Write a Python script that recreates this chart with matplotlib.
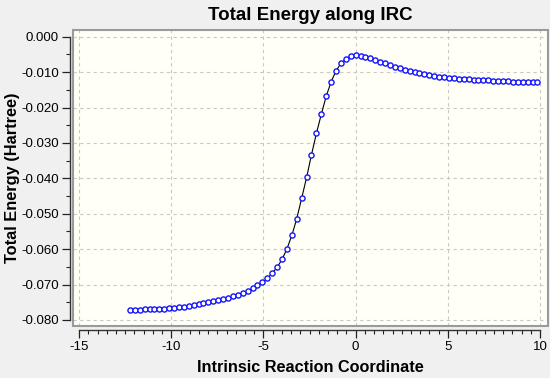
import matplotlib
matplotlib.use("Agg")
import matplotlib.pyplot as plt
from matplotlib.patches import Rectangle
from matplotlib.ticker import MultipleLocator, FormatStrFormatter

plt.rcParams["font.family"] = ["Liberation Sans", "DejaVu Sans"]
plt.rcParams["axes.unicode_minus"] = False

# IRC points
irc_x = [
    -12.25, -11.98, -11.72, -11.45, -11.18, -10.92, -10.65, -10.39, -10.12, -9.85,
    -9.59, -9.32, -9.05, -8.79, -8.52, -8.26, -7.99, -7.72, -7.46, -7.19,
    -6.92, -6.66, -6.39, -6.12, -5.86, -5.59, -5.33, -5.06, -4.79, -4.53,
    -4.26, -3.99, -3.73, -3.46, -3.20, -2.93, -2.66, -2.40, -2.13, -1.86,
    -1.60, -1.33, -1.07, -0.80, -0.53, -0.27, 0.00, 0.27, 0.53, 0.80,
    1.07, 1.33, 1.60, 1.86, 2.13, 2.40, 2.66, 2.93, 3.20, 3.46,
    3.73, 3.99, 4.26, 4.53, 4.79, 5.06, 5.33, 5.59, 5.86, 6.12,
    6.39, 6.66, 6.92, 7.19, 7.46, 7.72, 7.99, 8.26, 8.52, 8.79,
    9.05, 9.32, 9.59, 9.85,
]
irc_energy = [
    -0.07725, -0.07725, -0.07716, -0.07697, -0.07697, -0.07688, -0.07688, -0.07678, -0.07669, -0.07659,
    -0.07641, -0.07622, -0.07603, -0.07584, -0.07556, -0.07528, -0.07499, -0.07471, -0.07443, -0.07405,
    -0.07367, -0.07330, -0.07283, -0.07235, -0.07179, -0.07104, -0.07015, -0.06936, -0.06823, -0.06682,
    -0.06512, -0.06286, -0.05995, -0.05608, -0.05148, -0.04564, -0.03971, -0.03341, -0.02729, -0.02183,
    -0.01684, -0.01271, -0.00969, -0.00752, -0.00630, -0.00545, -0.00526, -0.00536, -0.00564, -0.00611,
    -0.00658, -0.00705, -0.00752, -0.00799, -0.00846, -0.00884, -0.00931, -0.00969, -0.01006, -0.01034,
    -0.01063, -0.01091, -0.01110, -0.01129, -0.01148, -0.01166, -0.01176, -0.01185, -0.01195, -0.01204,
    -0.01213, -0.01223, -0.01232, -0.01232, -0.01242, -0.01251, -0.01251, -0.01260, -0.01270, -0.01279,
    -0.01279, -0.01289, -0.01289, -0.01289,
]

W, H = 550, 378
fig = plt.figure(figsize=(5.5, 3.78), dpi=100, facecolor="#f0f0f0")
ax = fig.add_axes([73 / W, 1 - 326 / H, 475 / W, 296 / H])
ax.set_facecolor("#fffff6")

ax.plot(irc_x, irc_energy, color="black", lw=0.8, zorder=3)
ax.plot(irc_x, irc_energy, ls="none", marker="o", ms=3.7, mew=1.0,
        mec="#1414ff", mfc="#fffff6", zorder=4)

ax.set_xlim(-15.33, 10.43)
ax.set_ylim(-0.0817, 0.0019)

ax.xaxis.set_major_locator(MultipleLocator(5))
ax.xaxis.set_minor_locator(MultipleLocator(0.5))
ax.yaxis.set_major_locator(MultipleLocator(0.01))
ax.yaxis.set_minor_locator(MultipleLocator(0.005))
ax.yaxis.set_major_formatter(FormatStrFormatter("%.3f"))
ax.xaxis.set_major_formatter(FormatStrFormatter("%d"))

ax.grid(True, which="major", color="#c8c8c8", ls=(0, (3, 3)), lw=0.8)

for s in ["top", "right"]:
    ax.spines[s].set_visible(False)
ax.spines["left"].set_position(("outward", 2.2))
ax.spines["bottom"].set_position(("outward", 3.0))
ax.spines["left"].set_bounds(-0.080, 0.000)
ax.spines["bottom"].set_bounds(-15, 10)
for s in ["left", "bottom"]:
    ax.spines[s].set_color("#333333")
    ax.spines[s].set_linewidth(1.0)

ax.tick_params(which="major", direction="out", length=5.5, width=0.9,
               labelsize=9.5, color="#222222", pad=2.5)
ax.tick_params(which="minor", direction="out", length=3.2, width=0.8,
               color="#222222")

# plot area frame
ax.add_patch(Rectangle((0, 0), 1, 1, transform=ax.transAxes, fill=False,
                       ec="#9a9a9a", lw=1.5, clip_on=False, zorder=5))

fig.text(310.5 / W, 1 - 19.5 / H, "Total Energy along IRC", ha="center",
         va="baseline", fontsize=13.5, fontweight="bold")
fig.text(310.5 / W, 1 - 371.5 / H, "Intrinsic Reaction Coordinate", ha="center",
         va="baseline", fontsize=11.7, fontweight="bold")
fig.text(12.5 / W, 1 - 178 / H, "Total Energy (Hartree)", ha="center",
         va="center", rotation=90, fontsize=11.8, fontweight="bold")

fig.savefig("out.png", dpi=100, facecolor=fig.get_facecolor())
